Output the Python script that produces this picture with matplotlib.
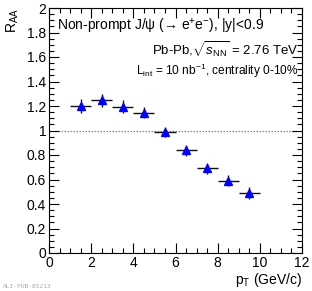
import matplotlib
matplotlib.use('Agg')
import matplotlib.pyplot as plt
from matplotlib.ticker import MultipleLocator

plt.rcParams['font.family'] = ['Liberation Sans', 'DejaVu Sans']
plt.rcParams['mathtext.fontset'] = 'custom'
plt.rcParams['mathtext.rm'] = 'Liberation Sans'
plt.rcParams['mathtext.it'] = 'Liberation Sans:italic'
plt.rcParams['mathtext.bf'] = 'Liberation Sans:bold'

# data
pt = [1.5, 2.5, 3.5, 4.5, 5.5, 6.5, 7.5, 8.5, 9.5]
pt_err = [0.5, 0.5, 0.5, 0.5, 0.5, 0.5, 0.5, 0.5, 0.5]
raa = [1.20, 1.245, 1.195, 1.145, 0.99, 0.84, 0.69, 0.59, 0.49]
raa_err = [0.055, 0.057, 0.05, 0.045, 0.04, 0.045, 0.045, 0.045, 0.05]

W, H = 312, 291
fig = plt.figure(figsize=(W / 100, H / 100), dpi=100)
ax = fig.add_axes([49 / W, (H - 253) / H, (302 - 49) / W, (253 - 8) / H])

ax.axhline(1.0, color='#888888', lw=0.9, ls=(0, (1.2, 1.2)), zorder=1)
ax.errorbar(pt, raa, xerr=pt_err, yerr=raa_err, fmt='^', color='#0000ff', ms=5.5,
            mec='#0000ff', ecolor='#111111', elinewidth=1.0, capsize=0, zorder=3)

ax.set_xlim(0, 12)
ax.set_ylim(0, 2)
ax.xaxis.set_major_locator(MultipleLocator(2))
ax.xaxis.set_minor_locator(MultipleLocator(0.5))
ax.yaxis.set_minor_locator(MultipleLocator(0.05))
ax.set_yticks([0, 0.2, 0.4, 0.6, 0.8, 1, 1.2, 1.4, 1.6, 1.8, 2])
ax.set_yticklabels(['0', '0.2', '0.4', '0.6', '0.8', '1', '1.2', '1.4', '1.6', '1.8', '2'])
ax.tick_params(which='both', direction='in', top=True, right=True, labelsize=10, pad=2)
ax.tick_params(which='major', length=7, width=0.8)
ax.tick_params(which='minor', length=3.5, width=0.8)
for s in ax.spines.values():
    s.set_linewidth(0.8)

ax.text(0.03, 0.925, 'Non-prompt J/ψ (→ e$^{+}$e$^{-}$), |y|<0.9',
        transform=ax.transAxes, fontsize=10, ha='left', va='center')
ax.text(0.985, 0.83, r'Pb-Pb,$\sqrt{s_{\rm NN}}$ = 2.76 TeV',
        transform=ax.transAxes, fontsize=9.5, ha='right', va='center')
ax.text(0.985, 0.745, r'L$_{\rm int}$ = 10 nb$^{-1}$, centrality 0-10%',
        transform=ax.transAxes, fontsize=8.6, ha='right', va='center')

fig.text(302 / W, 1 - 280 / H, r'p$_{\rm T}$ (GeV/c)', fontsize=10, ha='right', va='center')
fig.text(13 / W, 1 - 8 / H, r'R$_{\rm AA}$', fontsize=10, rotation=90, ha='center', va='top')
fig.text(3 / W, 1 - 287 / H, 'ALI-PUB-85213', fontsize=4.5, color='#aaaaaa',
         family='DejaVu Sans Mono', ha='left', va='center')

fig.savefig('out.png', dpi=100)
